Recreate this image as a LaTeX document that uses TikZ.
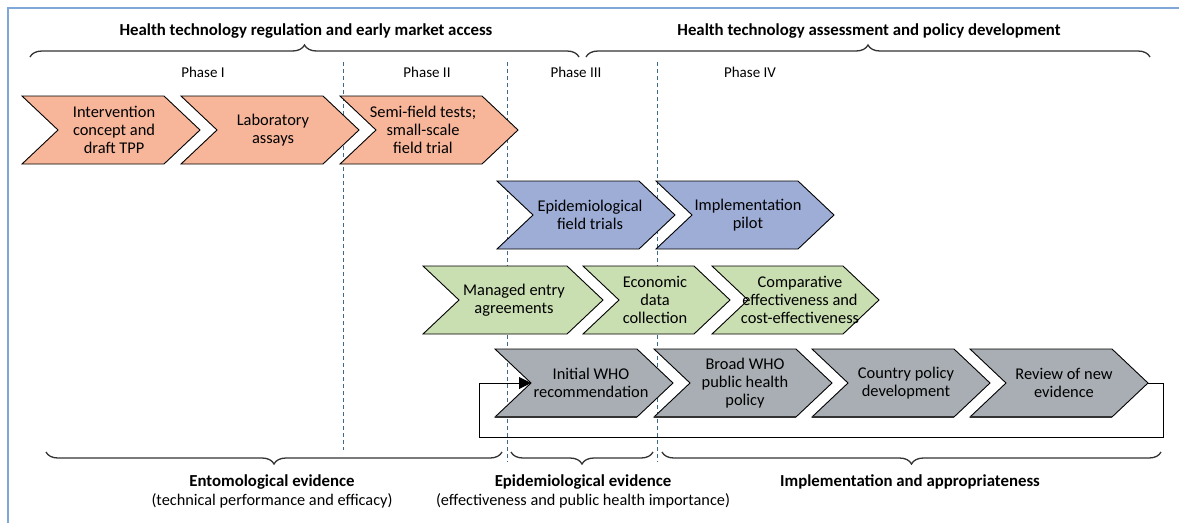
\documentclass[tikz,border=0pt]{standalone}
\usepackage{fontspec}
\setmainfont{Carlito}
\usetikzlibrary{arrows.meta,decorations.pathreplacing}

\definecolor{framecol}{HTML}{7FA8D8}
\definecolor{dashcol}{HTML}{3E6A8A}
\definecolor{bracecol}{HTML}{333333}
\definecolor{orangefill}{HTML}{F7B69A}
\definecolor{bluefill}{HTML}{9DADD6}
\definecolor{greenfill}{HTML}{C9DEB1}
\definecolor{greyfill}{HTML}{A8AEB3}

% chevron depth (notch and point) and half height
\def\dep{36}
\def\hh{34}

% \chevron{name}{left x}{top y}{width}{fill}{text x}{text}
\newcommand{\chevron}[7]{%
  \path[chevshape,fill=#5] (#2,#3) -- ++(#4-\dep,0) -- ++(\dep,\hh)
    -- ++(-\dep,\hh) -- ++(-#4+\dep,0) -- ++(\dep,-\hh) -- cycle;
  \coordinate (#1-tip) at (#2+#4,#3+\hh);
  \coordinate (#1-notch) at (#2+\dep,#3+\hh);
  \coordinate (#1-bl) at (#2,#3+2*\hh);
  \coordinate (#1-br) at (#2+#4-\dep,#3+2*\hh);
  \node[chevtext] (#1) at (#6,#3+\hh) {#7};
}

\begin{document}
\begin{tikzpicture}[x=1pt,y=-1pt,
  chevshape/.style={draw=black,line width=0.9pt,line join=miter},
  chevbase/.style={draw=black!80,line width=2pt},
  chevtext/.style={align=center,inner sep=0pt,font=\fontsize{16.4}{18.3}\selectfont},
  headtext/.style={inner sep=0pt,font=\fontsize{16.8}{19}\selectfont\bfseries},
  phasetext/.style={inner sep=0pt,font=\fontsize{15}{18}\selectfont},
  subtext/.style={inner sep=0pt,font=\fontsize{16.3}{18}\selectfont},
  bracetop/.style={draw=bracecol,line width=1.3pt,decorate,decoration={brace,amplitude=12pt}},
  bracebot/.style={draw=bracecol,line width=1.3pt,decorate,decoration={brace,amplitude=12pt,mirror}},
  phaseline/.style={draw=dashcol,line width=0.8pt,dash pattern=on 4pt off 3pt},
  loopline/.style={draw=black,line width=1pt,-{Triangle[length=12pt,width=12pt]}}
]
\useasboundingbox (0,0) rectangle (1179,523);

% outer frame
\draw[framecol,line width=1.3pt] (8,523) -- (8,8) -- (1179,8);

% top braces and headings
\draw[bracetop] (30,57) -- (579,57);
\draw[bracetop] (586,57) -- (1150,57);
\node[headtext] (hreg) at (306,31) {Health technology regulation and early market access};
\node[headtext] (hass) at (869,31) {Health technology assessment and policy development};

% phase labels
\node[phasetext] (ph1) at (203,72) {Phase I};
\node[phasetext] (ph2) at (427,72) {Phase II};
\node[phasetext] (ph3) at (576,72) {Phase III};
\node[phasetext] (ph4) at (750,72) {Phase IV};

% phase boundaries
\coordinate (b1t) at (343,62); \coordinate (b1b) at (343,450);
\coordinate (b2t) at (507,62); \coordinate (b2b) at (507,462);
\coordinate (b3t) at (657,62); \coordinate (b3b) at (657,462);
\draw[phaseline] (b1t) -- (b1b);
\draw[phaseline] (b2t) -- (b2b);
\draw[phaseline] (b3t) -- (b3b);

% row 1: entomological steps
\chevron{o1}{22}{96}{178}{orangefill}{114}{Intervention\\concept and\\draft TPP}
\chevron{o2}{181}{96}{178}{orangefill}{273}{Laboratory\\assays}
\chevron{o3}{340}{96}{178}{orangefill}{423}{Semi-field tests;\\small-scale\\field trial}

% row 2: epidemiological steps
\chevron{e1}{497}{181}{178}{bluefill}{590}{Epidemiological\\field trials}
\chevron{e2}{656}{181}{178}{bluefill}{748}{Implementation\\pilot}

% row 3: economic steps
\chevron{g1}{423}{266}{180}{greenfill}{514}{Managed entry\\agreements}
\chevron{g2}{583}{266}{147}{greenfill}{655}{Economic\\data\\collection}
\chevron{g3}{712}{266}{167}{greenfill}{800}{Comparative\\effectiveness and\\cost-effectiveness}

% row 4: policy steps
\chevron{p1}{495}{349}{178}{greyfill}{591}{Initial WHO\\recommendation}
\chevron{p2}{654}{349}{178}{greyfill}{745}{Broad WHO\\public health\\policy}
\chevron{p3}{812}{349}{178}{greyfill}{906}{Country policy\\development}
\chevron{p4}{970}{349}{178}{greyfill}{1064}{Review of new\\evidence}
\foreach \p in {p1,p2,p3,p4} \draw[chevbase] (\p-bl) -- (\p-br);

% feedback loop from review back to the initial recommendation
\coordinate (loopR) at (1163,437);
\coordinate (loopL) at (479,437);
\draw[loopline] (p4-tip) -| (loopR) -- (loopL) |- (p1-notch);

% bottom braces and evidence labels
\draw[bracebot] (46,452) -- (502,452);
\draw[bracebot] (511,452) -- (653,452);
\draw[bracebot] (662,452) -- (1161,452);
\node[headtext] (ev1) at (272,482) {Entomological evidence};
\node[subtext] (ev1s) at (272,501) {(technical performance and efficacy)};
\node[headtext] (ev2) at (583,482) {Epidemiological evidence};
\node[subtext] (ev2s) at (583,501) {(effectiveness and public health importance)};
\node[headtext] (ev3) at (910,482) {Implementation and appropriateness};
\end{tikzpicture}
\end{document}
